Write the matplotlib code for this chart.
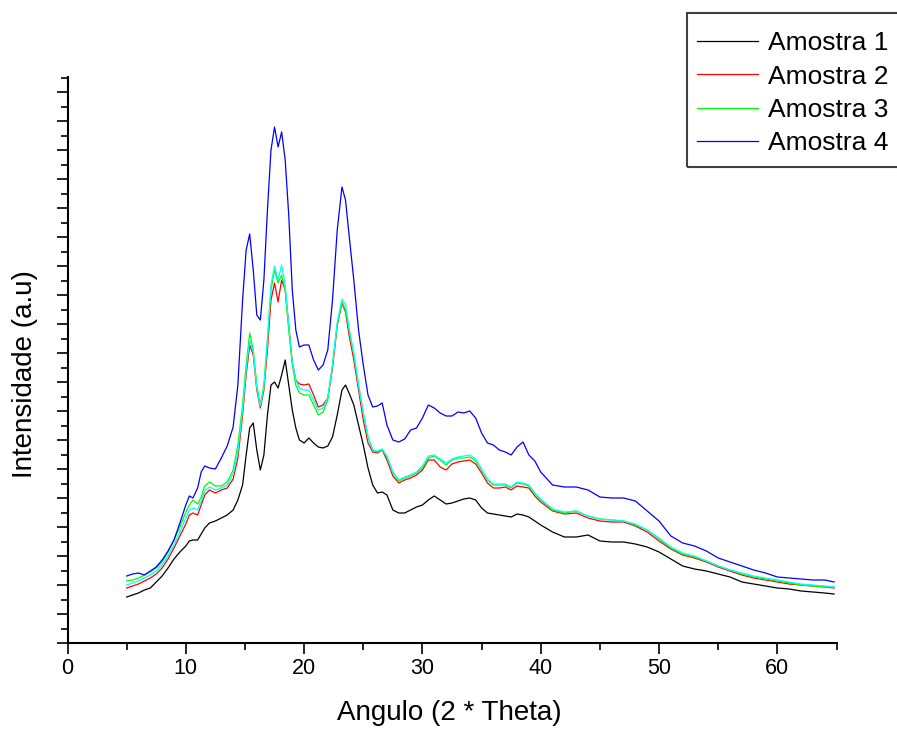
import numpy as np
import matplotlib
matplotlib.use("Agg")
import matplotlib.pyplot as plt
from matplotlib.ticker import MultipleLocator
from matplotlib.patches import Rectangle

# angle grid (2 theta)
angle = [5.0, 5.5, 6.0, 6.5, 7.0, 7.5, 8.0, 8.5, 9.0, 9.5, 10.0,
         10.3, 10.6, 11.0, 11.3, 11.6,
         12.0, 12.5, 13.0, 13.5, 14.0,
         14.4, 14.8,
         15.1, 15.4, 15.7, 16.0, 16.3, 16.6, 16.9, 17.2, 17.5, 17.8, 18.1, 18.4, 18.7, 19.0, 19.3, 19.6,
         20.0, 20.4, 20.8, 21.2, 21.6, 22.0, 22.4, 22.8, 23.2,
         23.5, 23.8,
         24.2, 24.6, 25.0, 25.4, 25.8, 26.2, 26.6, 27.0,
         27.5, 28.0, 28.5, 29.0, 29.5, 30.0, 30.5, 31.0, 31.5, 32.0, 32.5, 33.0, 33.5,
         34.0, 34.5, 35.0, 35.5, 36.0, 36.5, 37.0, 37.5, 38.0, 38.5, 39.0, 39.5, 40.0,
         41, 42, 43, 44, 45, 46, 47, 48, 49, 50, 51, 52,
         53, 54, 55, 56, 57, 58, 59, 60, 61, 62, 63, 64,
         64.8]

amostra1 = [46, 48, 50, 53, 55, 61, 67, 75, 84, 91, 97,
            102, 103, 103, 109, 115,
            120, 122, 125, 128, 133,
            143, 158,
            188, 215, 220, 193, 173, 188, 228, 258, 261, 255, 268, 283, 258, 233, 215, 203,
            200, 205, 200, 196, 195, 197, 206, 228, 253,
            258, 250,
            238, 218, 198, 175, 158, 150, 151, 148,
            133, 130, 130, 133, 136, 138, 143, 147, 143, 139, 140, 142, 144,
            145, 143, 135, 130, 129, 128, 127, 126, 129, 128, 126, 122, 118,
            111, 106, 106, 108, 102, 101, 101, 99, 96, 91, 84, 77,
            74, 72, 69, 66, 61, 59, 57, 55, 54, 52, 51, 50,
            49]

amostra2 = [55, 57, 59, 62, 65, 69, 75, 84, 95, 107, 119,
            128, 130, 128, 138, 148,
            153, 150, 153, 155, 164,
            185, 228,
            268, 298, 288, 253, 235, 253, 293, 343, 360, 341, 363, 353, 318, 281, 263, 259,
            258, 259, 248, 236, 238, 245, 275, 318, 340,
            331, 308,
            283, 253, 223, 200, 191, 190, 193, 183,
            167, 160, 163, 165, 168, 173, 183, 183, 176, 173, 179, 181, 182,
            183, 179, 170, 160, 155, 155, 156, 153, 157, 156, 155, 147, 141,
            132, 129, 130, 125, 122, 121, 121, 117, 111, 102, 94, 88,
            85, 81, 76, 72, 68, 65, 63, 61, 59, 58, 57, 56,
            55]

amostra3 = [62, 63, 65, 68, 71, 75, 81, 91, 103, 116, 131,
            138, 143, 139, 146, 157,
            161, 157, 157, 161, 173,
            198, 238,
            278, 310, 293, 258, 238, 258, 303, 353, 373, 360, 368, 353, 313, 278, 258, 250,
            248, 248, 238, 228, 231, 243, 278, 318, 341,
            333, 313,
            288, 258, 230, 206, 193, 191, 193, 186,
            170, 162, 165, 167, 170, 175, 185, 187, 183, 178, 183, 185, 185,
            186, 182, 173, 163, 158, 158, 158, 155, 160, 159, 157, 149, 143,
            133, 130, 132, 127, 124, 123, 122, 118, 113, 104, 95, 89,
            86, 82, 77, 73, 69, 66, 64, 62, 60, 58, 57, 56,
            56]

amostra4 = [67, 69, 70, 68, 72, 76, 83, 92, 103, 120, 138,
            147, 145, 155, 171, 177,
            175, 174, 185, 197, 216,
            258, 343,
            393, 409, 373, 328, 323, 363, 433, 493, 516, 496, 511, 483, 428, 353, 313, 296,
            298, 298, 283, 273, 278, 293, 343, 413, 456,
            443, 408,
            363, 313, 278, 248, 236, 237, 240, 218,
            203, 201, 204, 213, 215, 225, 238, 235, 230, 227, 227, 231, 230,
            232, 225, 210, 200, 198, 193, 191, 188, 196, 201, 188, 182, 171,
            158, 156, 156, 153, 146, 145, 145, 142, 132, 122, 107, 100,
            97, 92, 85, 81, 77, 73, 70, 66, 65, 64, 63, 63,
            61]

# extra trace drawn in the original but not listed in the legend
extra = [58, 60, 62, 65, 68, 72, 78, 87, 98, 111, 125,
         133, 135, 133, 142, 152,
         156, 153, 155, 158, 169,
         191, 233,
         273, 303, 291, 255, 237, 256, 303, 358, 377, 363, 378, 358, 318, 281, 263, 255,
         253, 253, 243, 233, 235, 245, 278, 321, 344,
         338, 315,
         290, 258, 230, 206, 193, 192, 194, 187,
         171, 163, 166, 168, 171, 177, 187, 188, 184, 180, 184, 186, 187,
         188, 184, 174, 164, 159, 159, 159, 156, 161, 160, 158, 150, 144,
         134, 131, 132, 127, 124, 123, 122, 119, 113, 105, 96, 90,
         87, 82, 77, 73, 70, 67, 65, 63, 61, 59, 58, 57,
         56]

labels = ["Amostra 1", "Amostra 2", "Amostra 3", "Amostra 4"]
colors = ["#000000", "#ff0000", "#00ff00", "#0000ff"]

plt.rcParams["font.family"] = ["Liberation Sans", "DejaVu Sans"]

fig = plt.figure(figsize=(8.97, 7.29), dpi=100)
ax = fig.add_axes([67.5 / 897, 86 / 729, 769 / 897, 566 / 729])

series = [amostra1, amostra2, amostra3, amostra4]
handles = []
for ys, lab, c in zip(series, labels, colors):
    h, = ax.plot(angle, ys, color=c, linewidth=0.9, label=lab)
    handles.append(h)
    if lab == "Amostra 3":
        ax.plot(angle, extra, color="#00ffff", linewidth=0.9)

ax.set_xlim(0, 65)
ax.set_ylim(0, 566)
ax.xaxis.set_major_locator(MultipleLocator(10))
ax.xaxis.set_minor_locator(MultipleLocator(5))
ax.yaxis.set_major_locator(MultipleLocator(29))
ax.yaxis.set_minor_locator(MultipleLocator(14.5))
ax.set_yticklabels([])

for s in ["top", "right"]:
    ax.spines[s].set_visible(False)
for s in ["left", "bottom"]:
    ax.spines[s].set_linewidth(1.5)

ax.tick_params(which="major", length=8, width=1.2, direction="out", pad=3)
ax.tick_params(which="minor", length=5, width=1.2, direction="out")
ax.tick_params(axis="x", labelsize=15.5)

ax.set_xlabel("Angulo (2 * Theta)", fontsize=20)
ax.set_ylabel("Intensidade (a.u)", fontsize=20, va="center")
ax.xaxis.set_label_coords(0.497, -0.1)
ax.yaxis.set_label_coords(-0.0553, 0.475)

# legend frame runs past the right edge of the figure
fig.patches.append(Rectangle((687 / 897, 1 - 167 / 729), 220 / 897, 154 / 729,
                             transform=fig.transFigure, fill=False,
                             edgecolor="#404040", linewidth=1.5))
leg = fig.legend(handles=handles, loc="upper left",
                 bbox_to_anchor=(697 / 897, 1 - 31 / 729),
                 fontsize=19, frameon=False,
                 borderaxespad=0, borderpad=0, handlelength=2.3,
                 handletextpad=0.38, labelspacing=0.36)

fig.savefig("out.png", dpi=100)
